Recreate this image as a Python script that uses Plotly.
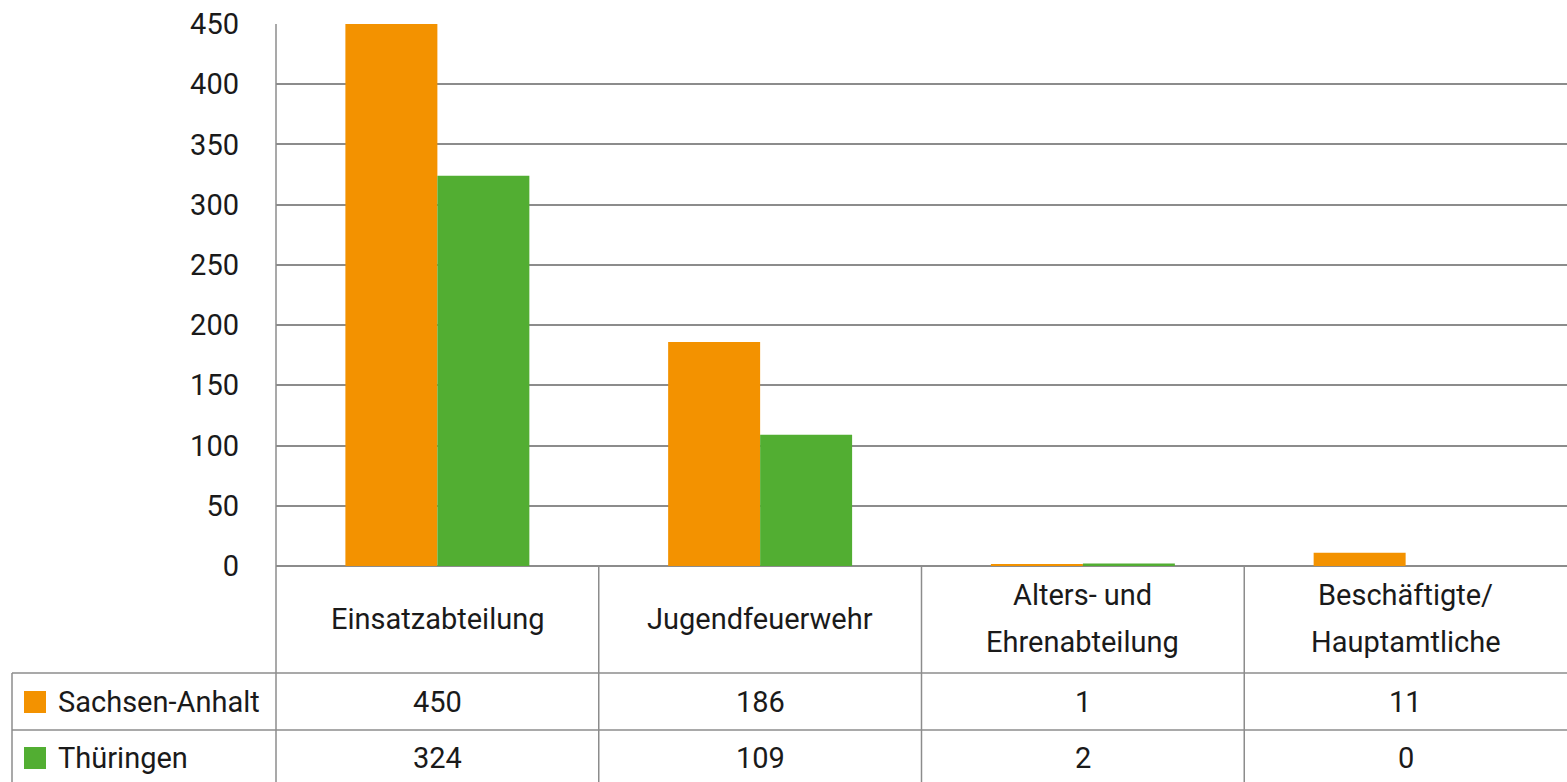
import plotly.graph_objects as go

categories = ["Einsatzabteilung", "Jugendfeuerwehr", "Alters- und<br>Ehrenabteilung", "Beschäftigte/<br>Hauptamtliche"]
series_names = ["Sachsen-Anhalt", "Thüringen"]
sachsen_anhalt = [450, 186, 1, 11]
thueringen = [324, 109, 2, 0]
colors = ["#F39200", "#52AE32"]
y_ticks = [0, 50, 100, 150, 200, 250, 300, 350, 400, 450]

W, H = 1567, 782
L, T, B = 276, 24, 566  # plot area in px
PW, PH = W - L, B - T
FONT = "Roboto, Noto Sans, sans-serif"
FS = 29
TXT = "#1a1a1a"
GRID = "#8c8c8c"

def px(x):
    return (x - L) / PW

def py(y):
    return (B - y) / PH

fig = go.Figure()
for name, vals, c in zip(series_names, [sachsen_anhalt, thueringen], colors):
    fig.add_trace(go.Bar(x=list(range(len(categories))), y=vals, name=name,
                         marker=dict(color=c, line=dict(width=0)),
                         hoverinfo="skip"))

shapes = []
def line(x0, y0, x1, y1):
    shapes.append(dict(type="line", xref="paper", yref="paper",
                       x0=px(x0), y0=py(y0), x1=px(x1), y1=py(y1),
                       line=dict(color=GRID, width=1.5)))

cw = PW / len(categories)
line(12, 673, W, 673)
line(12, 730, W, 730)
line(L, T, L, H)
for i in range(1, len(categories)):
    line(L + i * cw, B, L + i * cw, H)
line(12, 673, 12, H)

ann = []
def text(x, y, s, anchor="center"):
    ann.append(dict(x=x, y=y, xref="paper", yref="paper", text=s,
                    showarrow=False, font=dict(size=FS, color=TXT, family=FONT),
                    xanchor=anchor, yanchor="middle"))

for i, cat in enumerate(categories):
    cx = px(L + (i + 0.5) * cw)
    parts = cat.split("<br>")
    if len(parts) == 1:
        text(cx, py(619), parts[0])
    else:
        text(cx, py(595), parts[0])
        text(cx, py(642), parts[1])
    for r, vals in enumerate([sachsen_anhalt, thueringen]):
        text(cx, py(702 + r * 56), str(vals[i]))

for r, (name, c) in enumerate(zip(series_names, colors)):
    yc = 702 + r * 56
    shapes.append(dict(type="rect", xref="paper", yref="paper",
                       x0=px(24), x1=px(46), y0=py(yc - 11), y1=py(yc + 11),
                       fillcolor=c, line=dict(width=0)))
    text(px(56), py(yc), name, anchor="left")

fig.update_layout(
    width=W, height=H,
    margin=dict(l=L, r=0, t=T, b=H - B),
    paper_bgcolor="white", plot_bgcolor="white",
    barmode="group", bargap=0.43, bargroupgap=0,
    showlegend=False,
    font=dict(family=FONT, color=TXT, size=FS),
    xaxis=dict(range=[-0.5, len(categories) - 0.5], showticklabels=False,
               showgrid=False, zeroline=False, showline=False, fixedrange=True),
    yaxis=dict(range=[0, 450], tickvals=y_ticks, showgrid=True, gridcolor=GRID,
               gridwidth=1.5, zeroline=True, zerolinecolor=GRID, zerolinewidth=1.5,
               showline=False, ticks="", ticklabelstandoff=36, fixedrange=True,
               tickfont=dict(size=FS, color=TXT, family=FONT)),
    shapes=shapes, annotations=ann,
)
fig.write_html("out.html", config={"displayModeBar": False},
               post_script="document.body.style.margin='0';")
